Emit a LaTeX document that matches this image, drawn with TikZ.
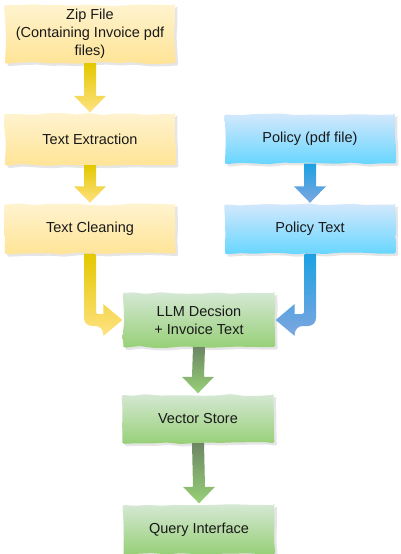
\documentclass[tikz,border=0pt]{standalone}
\usepackage{fontspec}
\setmainfont{Liberation Sans}
\usepackage{tikz}
\usetikzlibrary{positioning, calc}
\usetikzlibrary{decorations.pathmorphing}
\usetikzlibrary{shadows}

% fat arrow straight down, from one node to the next
\newcommand{\fatdown}[4]{%
\shade[top color=#3,bottom color=#4] ($(#1.south)+(-6,0)$) -- ($(#2.north)+(-6,18)$) -- ($(#2.north)+(-16,18)$) -- ($(#2.north)+(0,1.5)$) -- ($(#2.north)+(16,18)$) -- ($(#2.north)+(6,18)$) -- ($(#1.south)+(6,0)$) -- cycle;}

\begin{document}
\begin{tikzpicture}[x=1pt,y=1pt]
\definecolor{ylwtop}{RGB}{255,243,207};
\definecolor{ylwbot}{RGB}{255,228,150};
\definecolor{bluetop}{RGB}{212,232,252};
\definecolor{bluebot}{RGB}{102,214,255};
\definecolor{grntop}{RGB}{213,232,212};
\definecolor{grnbot}{RGB}{151,208,119};
\definecolor{ylwarr}{RGB}{227,200,0};
\definecolor{ylwarrl}{RGB}{255,226,130};
\definecolor{bluearr}{RGB}{27,161,226};
\definecolor{bluearrl}{RGB}{126,166,224};
\definecolor{grnarr}{RGB}{109,135,100};
\pgfmathsetseed{7}
\fill[white] (0,0) rectangle (400,-554);
\useasboundingbox (0,0) rectangle (400,-554);
\tikzstyle{box}=[shape=rectangle, minimum width=170pt, minimum height=50pt, align=center, font=\fontsize{14.5}{18}\selectfont, text=black!90, rounded corners=1.5pt, decorate, decoration={random steps, segment length=14pt, amplitude=1pt}, drop shadow={opacity=0.2, shadow xshift=2.5pt, shadow yshift=-2.5pt}];
\tikzstyle{yellowbox}=[box, top color=ylwtop, bottom color=ylwbot];
\tikzstyle{bluebox}=[box, top color=bluetop, bottom color=bluebot];
\tikzstyle{greenbox}=[box, top color=grntop, bottom color=grnbot, minimum width=151pt];
\node[yellowbox, minimum height=58pt] (zip) at (90,-34) {Zip File\\(Containing Invoice pdf\\files)};
\node[yellowbox, minimum height=51pt] (extract) at (90,-139.5) {Text Extraction};
\node[yellowbox, minimum height=49pt] (clean) at (90,-229) {Text Cleaning};
\node[bluebox, minimum height=49pt] (policy) at (310,-139) {Policy (pdf file)};
\node[bluebox, minimum height=49pt] (policytext) at (310,-229) {Policy Text};
\node[greenbox, minimum height=54pt] (llm) at (199,-320) {LLM Decsion\\+ Invoice Text};
\node[greenbox, minimum height=48pt] (vector) at (198,-419) {Vector Store};
\node[greenbox, minimum height=49pt] (query) at (199,-529.5) {Query Interface};
\fatdown{zip}{extract}{ylwarr}{ylwarrl}
\fatdown{extract}{clean}{ylwarr}{ylwarrl}
\fatdown{policy}{policytext}{bluearr}{bluearrl}
\fatdown{llm}{vector}{grnarr}{grnbot}
\fatdown{vector}{query}{grnarr}{grnbot}
% elbows into the LLM box
\shade[top color=ylwarr, bottom color=ylwarrl] ($(clean.south)+(-6,0)$) [rounded corners=8pt] |- ($(llm.west)+(-20,-6)$) [sharp corners] -- ($(llm.west)+(-20,-16)$) -- ($(llm.west)+(-1,0)$) -- ($(llm.west)+(-20,16)$) -- ($(llm.west)+(-20,6)$) [rounded corners=2pt] -| ($(clean.south)+(6,0)$) [sharp corners] -- cycle;
\shade[top color=bluearr, bottom color=bluearrl] ($(policytext.south)+(6,0)$) [rounded corners=8pt] |- ($(llm.east)+(20,-6)$) [sharp corners] -- ($(llm.east)+(20,-16)$) -- ($(llm.east)+(1,0)$) -- ($(llm.east)+(20,16)$) -- ($(llm.east)+(20,6)$) [rounded corners=2pt] -| ($(policytext.south)+(-6,0)$) [sharp corners] -- cycle;
\end{tikzpicture}
\end{document}
